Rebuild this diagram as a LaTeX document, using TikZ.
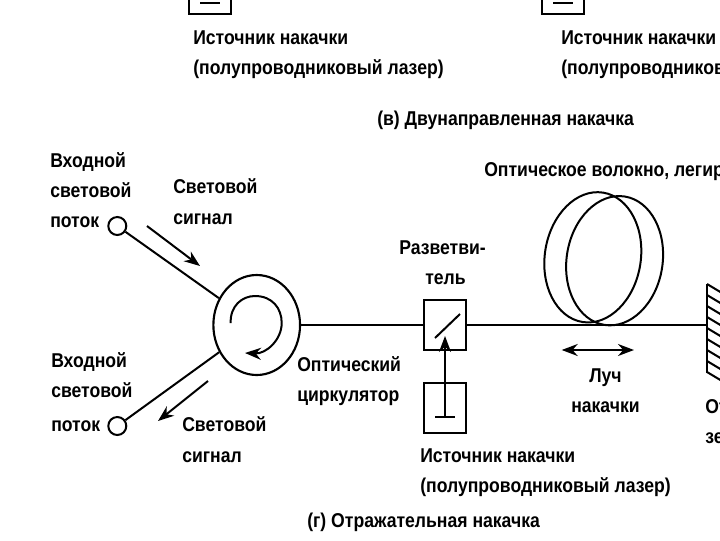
\documentclass[tikz,border=0pt]{standalone}
\usepackage{fontspec}
\setmainfont{Liberation Sans Bold}[FakeStretch=0.88]
\usetikzlibrary{shapes.geometric,arrows.meta,calc}
\tikzset{
  lbl/.style={inner sep=0pt,anchor=base west,font=\fontsize{15pt}{17pt}\selectfont,text=black},
  ln/.style={draw=black,line width=1.5pt},
  thick ln/.style={draw=black,line width=1.9pt},
  pumpbox/.style={draw=black,line width=1.5pt,minimum width=31.5pt,minimum height=37pt,inner sep=0pt,rectangle},
  port/.style={draw=black,line width=1.5pt,circle,minimum size=13.5pt,inner sep=0pt},
  arr/.style={ln,-{Stealth[length=12pt,width=9pt]}},
  arrs/.style={ln,{Stealth[length=12pt,width=9pt]}-{Stealth[length=12pt,width=9pt]}}
}
\begin{document}
\begin{tikzpicture}[x=0.75pt,y=-0.75pt]
\useasboundingbox (0,0) rectangle (720,540);
\clip (0,0) rectangle (720,540);
% top fragments
\node[pumpbox,minimum height=30pt,anchor=south] (t1) at (210,15) {};
\node[pumpbox,minimum height=30pt,anchor=south] (t2) at (563,15) {};
\coordinate (t1a) at (200,3); \coordinate (t1b) at (220,3);
\coordinate (t2a) at (553,3); \coordinate (t2b) at (573,3);
\draw[ln] (t1a) -- (t1b);
\draw[ln] (t2a) -- (t2b);
\node[lbl] (l1) at (193,44) {Источник накачки};
\node[lbl] (l2) at (193,74) {(полупроводниковый лазер)};
\node[lbl] (l3) at (561,44) {Источник накачки};
\node[lbl] (l4) at (561,74) {(полупроводников};
\node[lbl] (capv) at (377,125) {(в) Двунаправленная накачка};
% circulator
\node[ellipse,draw=black,line width=1.6pt,minimum width=65pt,minimum height=75pt,inner sep=0pt] (circ) at (256.7,325) {};
\coordinate (spS) at (230.7,323);
\coordinate (spE) at (245,353);
\draw[ln,-{Stealth[length=12pt,width=9pt]}] (spS) .. controls (230,306) and (242,296) .. (255,296) .. controls (272,296) and (281.7,308) .. (281.7,323) .. controls (281.7,340) and (266,354) .. (spE);
% ports
\node[port] (pin) at (117.3,226) {};
\node[port] (pout) at (117.3,426) {};
\draw[ln] (pin) -- (circ);
\draw[ln] (pout) -- (circ);
\coordinate (a1s) at (147,226); \coordinate (a1e) at (200,266);
\coordinate (a2s) at (208,381); \coordinate (a2e) at (158,421);
\draw[arr] (a1s) -- (a1e);
\draw[arr] (a2s) -- (a2e);
% splitter and source
\node[pumpbox] (split) at (445,325) {};
\node[pumpbox] (src) at (445,408) {};
\coordinate (d1) at (435,338); \coordinate (d2) at (460,314);
\draw[ln] (d1) -- (d2);
\coordinate (b1) at (435,417); \coordinate (b2) at (455,417);
\coordinate (bm) at (445,417); \coordinate (bt) at (445,336);
\draw[ln] (b1) -- (b2);
\draw[arr] (bm) -- (bt);
\draw[ln] (circ) -- (split);
% mirror
\coordinate (m1) at (707,284); \coordinate (m2) at (707,373);
\coordinate (mj) at (707,325);
\draw[thick ln] (split) -- (mj);
\draw[thick ln] (m1) -- (m2);
\foreach \y in {284,295,306,317,328,339,350,361,372}
  \draw[ln] (707,\y) -- (722,\y+9);
% fibre coil
\draw[ln] (592.8,257.3) coordinate (cl) [rotate around={-9:(592.8,257.3)}] ellipse [x radius=48,y radius=65.5];
\draw[ln] (614.6,260.7) coordinate (cr) [rotate around={-9:(614.6,260.7)}] ellipse [x radius=48,y radius=65];
\coordinate (h1) at (561.7,350); \coordinate (h2) at (634,350);
\draw[arrs] (h1) -- (h2);
% labels
\node[lbl] at (50,167) {Входной};
\node[lbl] at (50,197) {световой};
\node[lbl] at (50,227) {поток};
\node[lbl] at (173,193) {Световой};
\node[lbl] at (173,224) {сигнал};
\node[lbl] at (51,367) {Входной};
\node[lbl] at (51,397) {световой};
\node[lbl] at (51,431) {поток};
\node[lbl] at (182,431) {Световой};
\node[lbl] at (182,462) {сигнал};
\node[lbl] at (297,371) {Оптический};
\node[lbl] at (297,401) {циркулятор};
\node[lbl] at (399,254) {Разветви-};
\node[lbl] at (425,284) {тель};
\node[lbl] at (484,176) {Оптическое волокно, легир};
\node[lbl] at (589,382) {Луч};
\node[lbl] at (571,412) {накачки};
\node[lbl] at (705,413) {От};
\node[lbl] at (705,443) {зе};
\node[lbl] at (420,462) {Источник накачки};
\node[lbl] at (420,492) {(полупроводниковый лазер)};
\node[lbl] at (307,527) {(г) Отражательная накачка};
\end{tikzpicture}
\end{document}
